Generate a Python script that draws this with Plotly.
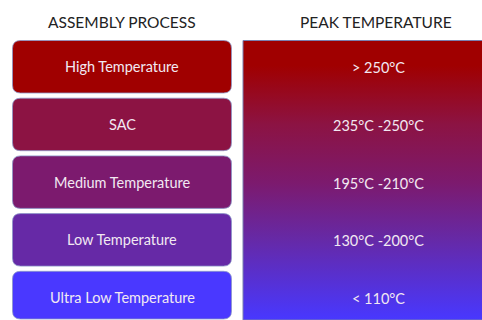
import plotly.graph_objects as go

# Table content
headers = ["ASSEMBLY PROCESS", "PEAK TEMPERATURE"]
processes = ["High Temperature", "SAC", "Medium Temperature", "Low Temperature", "Ultra Low Temperature"]
peak_temps = ["> 250°C", "235°C -250°C", "195°C -210°C", "130°C -200°C", "< 110°C"]
box_colors = ["#A00000", "#8C1343", "#7C1A6E", "#6629A6", "#4A38FF"]

W, H = 482, 320
left_x0, left_x1 = 12.5, 231.5
right_x0, right_x1 = 243, 514
top0, pitch, box_h, radius = 40.5, 57.7, 52.5, 8

fig = go.Figure()
shapes = []
annotations = []


def rounded_path(x0, y0, x1, y1, r):
    return (f"M{x0 + r},{y0} L{x1 - r},{y0} Q{x1},{y0} {x1},{y0 + r} "
            f"L{x1},{y1 - r} Q{x1},{y1} {x1 - r},{y1} L{x0 + r},{y1} "
            f"Q{x0},{y1} {x0},{y1 - r} L{x0},{y0 + r} Q{x0},{y0} {x0 + r},{y0} Z")


for i, (name, col) in enumerate(zip(processes, box_colors)):
    y0 = top0 + i * pitch
    y1 = min(y0 + box_h, 319)
    shapes.append(dict(type="path", path=rounded_path(left_x0, y0, left_x1, y1, radius),
                       xref="x", yref="y", fillcolor=col,
                       line=dict(color="rgba(140,150,200,0.8)", width=1), layer="above"))
    annotations.append(dict(x=(left_x0 + left_x1) / 2, y=y0 + box_h / 2, text=name,
                            showarrow=False, xref="x", yref="y",
                            font=dict(family="Lato", size=14.5, color="#F2E8F2")))
    annotations.append(dict(x=(right_x0 + right_x1) / 2, y=y0 + box_h / 2 + 1, text=peak_temps[i],
                            showarrow=False, xref="x", yref="y",
                            font=dict(family="Lato", size=14.5, color="#F2E8F2")))

# Gradient panel behind the temperature labels
scale = [[0.0, box_colors[0]], [0.09, box_colors[0]], [0.3, box_colors[1]],
         [0.51, box_colors[2]], [0.71, box_colors[3]], [1.0, "#4838FF"]]
fig.add_trace(go.Scatter(
    x=[right_x0, right_x1, right_x1, right_x0, right_x0],
    y=[top0, top0, 320, 320, top0],
    mode="lines", fill="toself", line=dict(color="#7A80B0", width=1),
    fillgradient=dict(type="vertical", colorscale=scale, start=top0, stop=320),
    hoverinfo="skip", showlegend=False))

for hx, txt in zip([(left_x0 + left_x1) / 2, (right_x0 + right_x1) / 2 - 3], headers):
    annotations.append(dict(x=hx, y=22, text=txt, showarrow=False, xref="x", yref="y",
                            font=dict(family="Lato", size=15.5, color="#222222")))

fig.update_layout(
    width=W, height=H, margin=dict(l=0, r=0, t=0, b=0),
    paper_bgcolor="white", plot_bgcolor="white",
    xaxis=dict(range=[0, W], visible=False, fixedrange=True),
    yaxis=dict(range=[H, 0], visible=False, fixedrange=True),
    shapes=shapes, annotations=annotations, showlegend=False,
)
fig.write_html("out.html")
